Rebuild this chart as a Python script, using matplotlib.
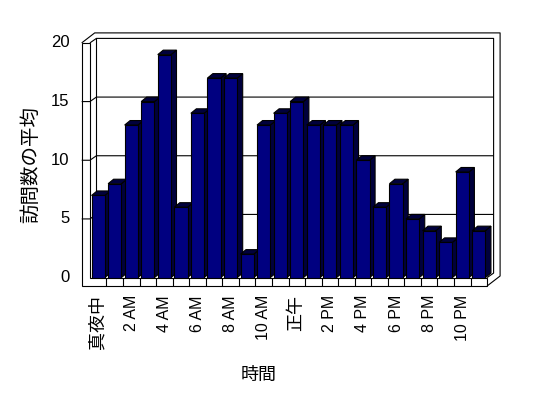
import matplotlib
matplotlib.use('Agg')
import matplotlib.pyplot as plt
from matplotlib.patches import Polygon

# average visits per hour of the day
hours = list(range(24))
visits = [7, 8, 13, 15, 19, 6, 14, 17, 17, 2, 13, 14, 15, 13, 13, 13, 10, 6, 8, 5, 4, 3, 9, 4]
tick_hours = [0, 2, 4, 6, 8, 10, 12, 14, 16, 18, 20, 22]
tick_labels = ['真夜中', '2 AM', '4 AM', '6 AM', '8 AM', '10 AM', '正午', '2 PM', '4 PM', '6 PM', '8 PM', '10 PM']
y_ticks = [0, 5, 10, 15, 20]

plt.rcParams['font.family'] = ['Liberation Sans', 'Noto Sans CJK JP', 'DejaVu Sans']

W, H = 548, 398
fig = plt.figure(figsize=(W / 100, H / 100), dpi=100)
ax = fig.add_axes([89.9 / W, 120.4 / H, 397.2 / W, 234.7 / H])
ax.set_xlim(-0.5, 23.5)
ax.set_ylim(0, 20)
ax.axis('off')

# pixel -> data unit helpers for the fake 3d depth
ux = 397.2 / 24
uy = 234.7 / 20
def dx(p):
    return p / ux
def dy(p):
    return p / uy

x0, x1 = -0.5, 23.5
xl = x0 - dx(8.2)          # outer edge of left wall
fb = -dy(8.4)              # bottom of floor slab
din = (dx(6.5), dy(4.5))   # inner (back wall) depth
dout = (dx(13), dy(10))    # outer depth
dbar = (dx(5.5), dy(4.5))  # column depth
lw = 0.8
kw = dict(color='black', lw=lw, clip_on=False, solid_capstyle='butt')

# back wall gridlines
for v in y_ticks[1:-1]:
    ax.plot([xl, x0, x0 + din[0], x1 + din[0]], [v, v, v + din[1], v + din[1]], **kw)

# inner frame of walls
ax.plot([x0, x0 + din[0], x1 + din[0], x1 + din[0], x1],
        [20, 20 + din[1], 20 + din[1], din[1], 0], **kw)
ax.plot([x0 + din[0], x0 + din[0]], [20 + din[1], din[1]], **kw)
# outer frame
ax.plot([xl, xl + dout[0], x1 + dout[0], x1 + dout[0], x1],
        [20, 20 + dout[1], 20 + dout[1], fb + dout[1], fb], **kw)

# floor slab front + left wall front (L shape)
ax.add_patch(Polygon([(xl, fb), (x1, fb), (x1, 0), (x0, 0), (x0, 20), (xl, 20)],
                     closed=True, facecolor='white', edgecolor='black', lw=lw, clip_on=False))
for i in hours[:-1]:
    ax.plot([i + 0.5, i + 0.5], [fb, 0], **kw)

# columns
half = 0.4
ax.bar(hours, visits, width=2 * half, color='#000080', edgecolor='black', linewidth=lw, zorder=3)
for i, v in zip(hours, visits):
    r, l = i + half, i - half
    side = [(r, 0), (r, v), (r + dbar[0], v + dbar[1]), (r + dbar[0], dbar[1])]
    top = [(l, v), (r, v), (r + dbar[0], v + dbar[1]), (l + dbar[0], v + dbar[1])]
    for pts in (side, top):
        ax.add_patch(Polygon(pts, closed=True, facecolor='#00003c', edgecolor='black',
                             lw=lw, clip_on=False, zorder=2.9))

# tick labels
for v in y_ticks:
    ax.text(x0 - dx(20.5), v, str(v), ha='right', va='center', fontsize=12)
for h, lab in zip(tick_hours, tick_labels):
    size = 13 if lab in ('真夜中', '正午') else 11.5
    ax.text(h, fb - dy(9), lab, rotation=90, ha='center', va='top', fontsize=size)

fig.text(259 / W, 1 - 375 / H, '時間', ha='center', va='center', fontsize=13)
fig.text(31 / W, 1 - 165 / H, '訪問数の平均', ha='center', va='center', rotation=90, fontsize=14)

fig.savefig('out.png', dpi=100)
